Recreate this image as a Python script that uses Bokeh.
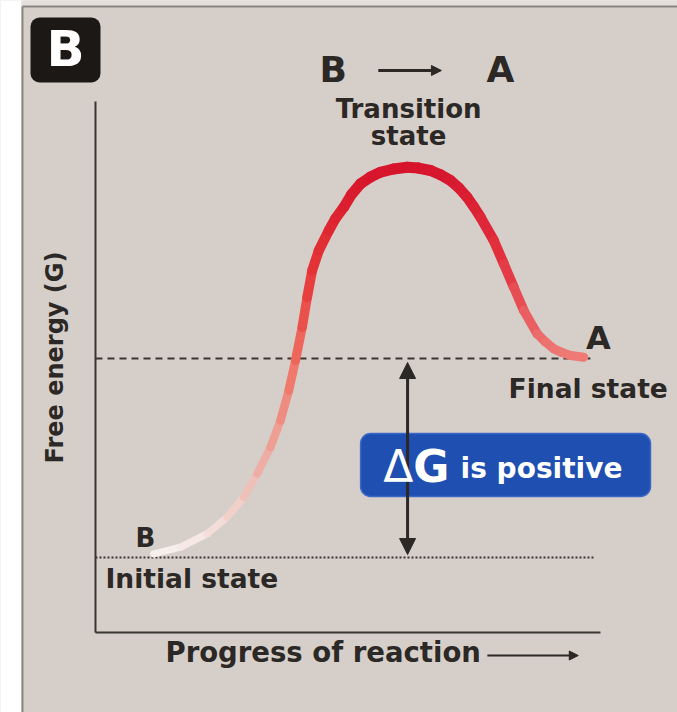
from bokeh.plotting import figure
from bokeh.models import Range1d, Arrow, NormalHead, Label
from bokeh.embed import file_html
from bokeh.resources import INLINE

# ---- data (progress of reaction, free energy G) ----
curve_progress = [1.154, 1.683, 2.212, 2.608, 2.937, 3.202, 3.465, 3.663, 3.828, 3.960,
                  4.093, 4.192, 4.291, 4.422, 4.620, 4.752, 4.917, 5.069, 5.248, 5.446,
                  5.644, 5.901, 6.172, 6.396, 6.634, 6.832, 7.030, 7.198, 7.360, 7.495,
                  7.624, 7.887, 8.085, 8.283, 8.481, 8.747, 8.911, 9.075, 9.238, 9.406, 9.669]
curve_energy = [1.574, 1.706, 1.974, 2.306, 2.706, 3.174, 3.706, 4.240, 4.840, 5.440,
                6.106, 6.706, 7.240, 7.640, 8.040, 8.280, 8.506, 8.760, 8.974, 9.110,
                9.206, 9.270, 9.306, 9.288, 9.240, 9.154, 9.040, 8.890, 8.706, 8.510,
                8.306, 7.840, 7.374, 6.906, 6.440, 5.974, 5.810, 5.674, 5.600, 5.540, 5.506]
initial_G = 1.5
final_G = 5.48
x_max = 10.0
g_max = 10.62

FONT = "DejaVu Sans"
INK = "#2b2826"
BG = "#d6cfc9"

p = figure(width=677, height=712, x_range=Range1d(-1.881, 11.525), y_range=Range1d(-1.6, 12.64),
           output_backend="svg", toolbar_location=None, min_border=0,
           background_fill_color=BG, border_fill_color=BG, outline_line_color=None)
p.axis.visible = False
p.grid.visible = False

# page edge: white strip, light top band, panel border lines
p.quad(left=-2.0, right=-1.465, bottom=-2, top=13, fill_color="white", line_color=None)
p.quad(left=-1.465, right=12, bottom=12.52, top=13, fill_color="#e4e0dc", line_color=None)
p.segment(x0=-1.446, y0=-2, x1=-1.446, y1=12.52, line_color="#8a8580", line_width=2)
p.segment(x0=-1.446, y0=12.52, x1=12, y1=12.52, line_color="#8a8580", line_width=2)

# axes
p.segment(x0=0, y0=0, x1=0, y1=g_max, line_color="#3a3633", line_width=2)
p.segment(x0=0, y0=0, x1=x_max, y1=0, line_color="#3a3633", line_width=2)

# reference lines
p.segment(x0=0, y0=initial_G, x1=9.9, y1=initial_G, line_color="#3a3633", line_width=2, line_dash="2 2")
p.segment(x0=0, y0=final_G, x1=9.8, y1=final_G, line_color="#3a3633", line_width=2, line_dash="7 5")

# gradient curve: colour follows the climb to the peak, then the descent
rise_stops = [(0.0, (246, 242, 240)), (0.21, (238, 182, 174)), (0.5, (240, 112, 100)),
              (0.73, (230, 55, 55)), (1.0, (214, 20, 44))]
fall_stops = [(0.0, (214, 20, 44)), (0.5, (226, 50, 62)), (1.0, (238, 122, 118))]

def grad(stops, t):
    t = min(max(t, 0.0), 1.0)
    for (t0, c0), (t1, c1) in zip(stops[:-1], stops[1:]):
        if t <= t1:
            f = (t - t0) / (t1 - t0)
            return "#%02x%02x%02x" % tuple(int(round(a + (b - a) * f)) for a, b in zip(c0, c1))
    return "#%02x%02x%02x" % stops[-1][1]

n = len(curve_progress)
ipk = curve_energy.index(max(curve_energy))
g0, gpk, gend = curve_energy[0], curve_energy[ipk], curve_energy[-1]
x0s, y0s, x1s, y1s, cols, wids = [], [], [], [], [], []
for i in range(n - 1):
    gm = 0.5 * (curve_energy[i] + curve_energy[i + 1])
    x0s.append(curve_progress[i]); y0s.append(curve_energy[i])
    x1s.append(curve_progress[i + 1]); y1s.append(curve_energy[i + 1])
    if i < ipk:
        f = (gm - g0) / (gpk - g0)
        cols.append(grad(rise_stops, f))
        wids.append(7 + 4 * f)
    else:
        f = (gpk - gm) / (gpk - gend)
        cols.append(grad(fall_stops, f))
        wids.append(11 - 2 * f)
p.segment(x0=x0s, y0=y0s, x1=x1s, y1=y1s, line_color=cols, line_width=wids, line_cap="round")

# double arrow for delta G
p.add_layout(Arrow(start=NormalHead(size=16, fill_color=INK, line_color=INK),
                   end=NormalHead(size=16, fill_color=INK, line_color=INK),
                   x_start=6.18, y_start=initial_G + 0.06, x_end=6.18, y_end=final_G - 0.08,
                   line_color=INK, line_width=3))

# blue box
p.quad(left=5.25, right=10.99, bottom=2.72, top=3.98, fill_color="#1f4fb0",
       line_color="#3a68c8", line_width=1.5, border_radius=10)
p.add_layout(Label(x=5.70, y=3.32, text="Δ", text_font=FONT, text_font_size="44px",
                   text_color="white", text_baseline="middle", text_align="left"))
p.add_layout(Label(x=6.29, y=3.32, text="G", text_font=FONT, text_font_size="44px",
                   text_font_style="bold", text_color="white", text_baseline="middle", text_align="left"))
p.add_layout(Label(x=7.23, y=3.28, text="is positive", text_font=FONT, text_font_size="28px",
                   text_font_style="bold", text_color="white", text_baseline="middle", text_align="left"))

# panel tag
p.quad(left=-1.287, right=0.099, bottom=11.0, top=12.3, fill_color="#1c1816", line_color=None,
       border_radius=9)
p.add_layout(Label(x=-0.594, y=11.68, text="B", text_font=FONT, text_font_size="50px",
                   text_font_style="bold", text_color="white", text_baseline="middle", text_align="center"))

def lab(x, y, t, size, align="center", angle=0.0):
    p.add_layout(Label(x=x, y=y, text=t, text_font=FONT, text_font_size=size, text_font_style="bold",
                       text_color=INK, text_baseline="middle", text_align=align, angle=angle))

# title
lab(4.71, 11.27, "B", "36px")
lab(8.02, 11.27, "A", "36px")
p.add_layout(Arrow(end=NormalHead(size=10, fill_color=INK, line_color=INK),
                   x_start=5.6, y_start=11.24, x_end=6.85, y_end=11.24, line_color=INK, line_width=3))

lab(6.2, 10.48, "Transition", "26px")
lab(6.2, 9.94, "state", "26px")

lab(0.99, 1.89, "B", "26px")
lab(0.198, 1.08, "Initial state", "26.5px", align="left")
lab(9.96, 5.9, "A", "32px")
lab(8.18, 4.89, "Final state", "26.5px", align="left")

lab(-0.81, 5.5, "Free energy (G)", "24px", angle=1.5708)
lab(1.386, -0.38, "Progress of reaction", "27.5px", align="left")
p.add_layout(Arrow(end=NormalHead(size=9, fill_color=INK, line_color=INK),
                   x_start=7.76, y_start=-0.46, x_end=9.56, y_end=-0.46, line_color=INK, line_width=2))

open("out.html", "w").write(file_html(p, INLINE))
